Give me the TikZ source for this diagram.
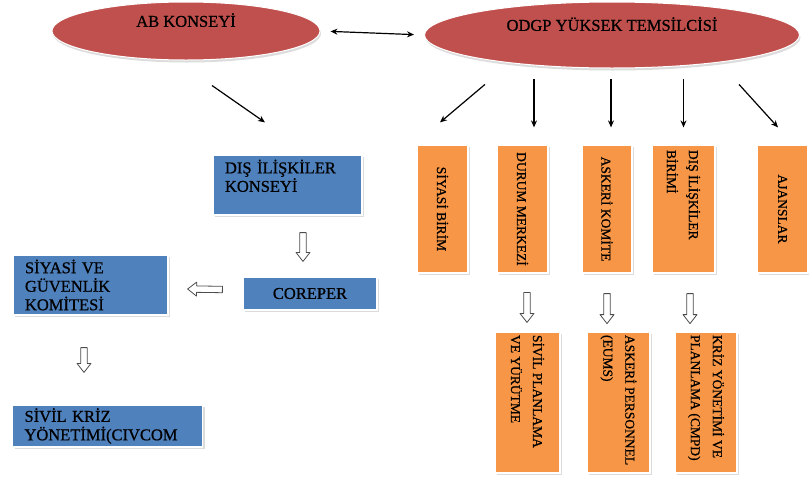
\documentclass[tikz,border=0pt]{standalone}
\usepackage{fontspec}
\usepackage{graphicx}
\setmainfont{Liberation Serif}
\newfontfamily\yazi{Liberation Serif}[FakeBold=0.7]
\usetikzlibrary{shapes.geometric,shadows,arrows.meta,calc}
\definecolor{elkirmizi}{HTML}{C0504D}
\definecolor{kutumavi}{HTML}{4F81BD}
\definecolor{kututuruncu}{HTML}{F79646}
% dikey yazi: genislik, hizalama, metin
\newcommand{\dikyazi}[3]{\rotatebox[origin=c]{-90}{\parbox{#1}{#2#3}}}
% bos ok: baslangic, bitis
\newcommand{\bosok}[2]{%
	\path (#1) coordinate (okA) (#2) coordinate (okB) ($(okB)!9pt!(okA)$) coordinate (okH);
	\draw[bosokstil] ($(okA)!3.2pt!90:(okB)$) -- ($(okH)!3.2pt!-90:(okA)$) -- ($(okH)!7pt!-90:(okA)$)
		-- (okB) -- ($(okH)!7pt!90:(okA)$) -- ($(okH)!3.2pt!90:(okA)$) -- ($(okA)!3.2pt!-90:(okB)$) -- cycle;}
\tikzset{
	kurul/.style={ellipse,fill=elkirmizi,draw=white,line width=1pt,
		drop shadow={shadow xshift=1pt,shadow yshift=-2.5pt,fill=gray!55},
		font=\yazi\fontsize{16.5}{18}\selectfont,text depth=22pt,inner sep=0pt},
	mavikutu/.style={rectangle,fill=kutumavi,draw=white,line width=1.2pt,
		drop shadow={shadow xshift=2pt,shadow yshift=-2pt,fill=gray!55},
		font=\yazi\fontsize{16.5}{18.5}\selectfont,align=left,inner xsep=12pt,inner ysep=0pt},
	turuncukutu/.style={rectangle,fill=kututuruncu,draw=white,line width=1.2pt,
		drop shadow={shadow xshift=2pt,shadow yshift=-2pt,fill=gray!55},
		font=\yazi\fontsize{13.5}{22}\selectfont,inner sep=0pt},
	ok/.style={->,line width=1.2pt},
	bosokstil/.style={draw=gray!60!black,fill=white,line width=0.8pt,line join=round},
}
\begin{document}
\begin{tikzpicture}[>={Stealth[length=7pt,width=6pt]},x=1pt,y=-1pt]
	\useasboundingbox (0,0) rectangle (809,480);
	% ust kurullar
	\node[kurul,minimum width=268pt,minimum height=58pt] (ab) at (186,31) {AB KONSEYİ};
	\node[kurul,minimum width=375pt,minimum height=66pt] (odgp) at (612,35) {ODGP YÜKSEK TEMSİLCİSİ};
	\draw[<->,line width=1.2pt,shorten <=10pt,shorten >=10pt] (ab.east) -- (odgp.west);
	% sol taraf
	\node[mavikutu,text width=125pt,minimum height=60pt] (dis) at (287.5,185) {DIŞ İLİŞKİLER\\KONSEYİ\\~};
	\node[mavikutu,align=center,text width=110pt,minimum height=33pt] (corep) at (310,293.5) {COREPER};
	\node[mavikutu,text width=131pt,minimum height=60pt] (siy) at (90.5,285) {SİYASİ VE\\GÜVENLİK\\KOMİTESİ};
	\node[mavikutu,text width=166pt,minimum height=42pt] (siv) at (107.5,426) {SİVİL KRİZ\\YÖNETİMİ(CIVCOM};
	\draw[ok] ([xshift=26pt,yshift=-25pt]ab.south) -- ([xshift=-22.5pt,yshift=32pt]dis.north);
	\bosok{[xshift=15.5pt,yshift=-17pt]dis.south}{[xshift=-7pt,yshift=15pt]corep.north}
	\bosok{[yshift=4pt,xshift=-20pt]corep.west}{[yshift=-4pt,xshift=19pt]siy.east}
	\bosok{[xshift=-6.5pt,yshift=-32pt]siy.south}{[xshift=-23.5pt,yshift=32pt]siv.north}
	% birimler
	\node[turuncukutu,minimum width=51pt,minimum height=128pt] (b1) at (442.5,209) {\dikyazi{118pt}{\centering}{SİYASİ BİRİM}};
	\node[turuncukutu,minimum width=51pt,minimum height=128pt] (b2) at (522.5,209) {\dikyazi{118pt}{\centering}{DURUM MERKEZİ}};
	\node[turuncukutu,minimum width=50pt,minimum height=128pt] (b3) at (607,209) {\dikyazi{118pt}{\centering}{ASKERİ KOMİTE}};
	\node[turuncukutu,minimum width=63pt,minimum height=128pt] (b4) at (683.5,209) {\dikyazi{118pt}{\raggedright}{DIŞ İLİŞKİLER\\BİRİMİ}};
	\node[turuncukutu,minimum width=51pt,minimum height=128pt] (b5) at (782.5,209) {\dikyazi{118pt}{\centering}{AJANSLAR}};
	\draw[ok] ([xshift=42.5pt,yshift=60pt]b1.north) -- ([xshift=-2.5pt,yshift=22pt]b1.north);
	\draw[ok] ([xshift=11.5pt,yshift=65pt]b2.north) -- ([xshift=11.5pt,yshift=17pt]b2.north);
	\draw[ok] ([xshift=4pt,yshift=65pt]b3.north) -- ([xshift=4pt,yshift=17pt]b3.north);
	\draw[ok] ([yshift=65pt]b4.north) -- ([yshift=17pt]b4.north);
	\draw[ok] ([xshift=-43.5pt,yshift=60pt]b5.north) -- ([xshift=-4.5pt,yshift=17pt]b5.north);
	% alt birimler
	\node[turuncukutu,minimum width=65pt,minimum height=141pt] (ka) at (527.5,402.5) {\dikyazi{135pt}{\raggedright}{SİVİL PLANLAMA\\VE YÜRÜTME}};
	\node[turuncukutu,minimum width=63pt,minimum height=141pt] (kb) at (618.5,402.5) {\dikyazi{135pt}{\raggedright}{ASKERİ PERSONNEL\\(EUMS)}};
	\node[turuncukutu,minimum width=62pt,minimum height=141pt] (kc) at (706,402.5) {\dikyazi{135pt}{\raggedright}{KRİZ YÖNETİMİ VE\\PLANLAMA (CMPD)}};
	\bosok{[xshift=-0.5pt,yshift=39pt]ka.north}{[xshift=-0.5pt,yshift=9pt]ka.north}
	\bosok{[yshift=-20pt]b3.south}{[yshift=-50pt]b3.south}
	\bosok{[xshift=6.5pt,yshift=-20pt]b4.south}{[xshift=6.5pt,yshift=-50pt]b4.south}
\end{tikzpicture}
\end{document}
